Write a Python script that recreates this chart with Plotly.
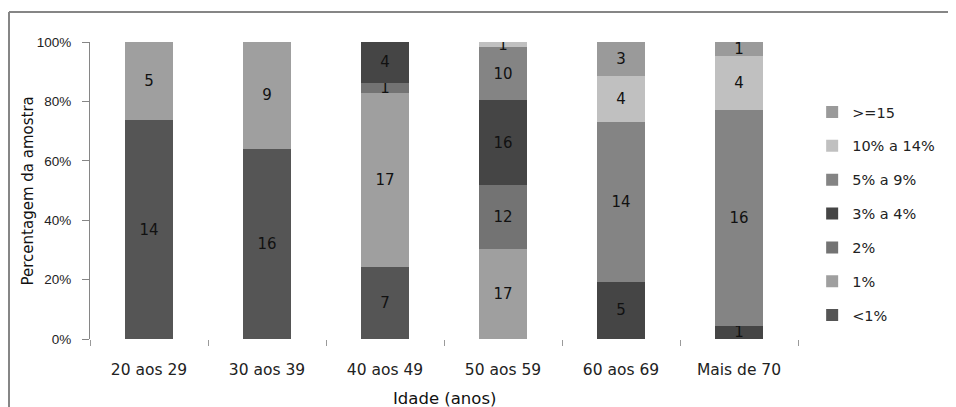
import plotly.graph_objects as go

categories = ["20 aos 29", "30 aos 39", "40 aos 49", "50 aos 59", "60 aos 69", "Mais de 70"]
series_names = ["<1%", "1%", "2%", "3% a 4%", "5% a 9%", "10% a 14%", ">=15"]
s_lt1 = [14, 16, 7, None, None, None]
s_1 = [5, 9, 17, 17, None, None]
s_2 = [None, None, 1, 12, None, None]
s_3a4 = [None, None, 4, 16, 5, 1]
s_5a9 = [None, None, None, 10, 14, 16]
s_10a14 = [None, None, None, 1, 4, 4]
s_ge15 = [None, None, None, None, 3, 1]
y_ticks = [0, 20, 40, 60, 80, 100]
y_tick_labels = ["0%", "20%", "40%", "60%", "80%", "100%"]

series_values = [s_lt1, s_1, s_2, s_3a4, s_5a9, s_10a14, s_ge15]
colors = ["#555555", "#9f9f9f", "#737373", "#454545", "#848484", "#c0c0c0", "#9a9a9a"]

WIDE = "DejaVu Sans"
ARIAL = "Liberation Sans"

fig = go.Figure()
for i, (name, vals, col) in enumerate(zip(series_names, series_values, colors)):
    fig.add_trace(go.Bar(
        x=categories, y=vals, name=name, marker_color=col,
        marker_line_width=0,
        text=[("" if v is None else str(v)) for v in vals],
        textposition="inside", insidetextanchor="middle",
        constraintext="none", textangle=0,
        textfont=dict(family=WIDE, size=15, color="#111111"),
        legendgroup=name, legendrank=100 - i,
    ))

fig.update_layout(
    width=956, height=407,
    barmode="stack", barnorm="percent", bargap=0.6,
    plot_bgcolor="white", paper_bgcolor="white",
    margin=dict(l=82, r=166, t=34, b=75.5, autoexpand=False),
    font=dict(family=WIDE, size=14, color="#222222"),
    legend=dict(
        x=1.02, y=0.818, xanchor="left", yanchor="top",
        traceorder="grouped", tracegroupgap=12,
        font=dict(family=WIDE, size=14.5, color="#222222"),
        itemwidth=30,
    ),
    showlegend=True,
)
fig.update_yaxes(
    range=[0, 100], tickmode="array", tickvals=y_ticks, ticktext=y_tick_labels,
    showgrid=False, zeroline=False, automargin=False,
    showline=True, linecolor="#868686", linewidth=1,
    ticks="outside", ticklen=7, tickcolor="#868686",
    tickfont=dict(family=ARIAL, size=13.5, color="#222222"),
    ticklabelstandoff=8,
)
fig.update_xaxes(
    showgrid=False, showline=False,
    automargin=False,
    ticks="outside", tickson="boundaries", ticklen=6, tickcolor="#9a9a9a",
    tickfont=dict(family=WIDE, size=15.5, color="#222222"),
    ticklabelstandoff=19,
)
fig.add_annotation(
    text="Percentagem da amostra", textangle=-90,
    xref="paper", yref="paper", x=-0.0876, y=0.5,
    xanchor="center", yanchor="middle", showarrow=False,
    font=dict(family=WIDE, size=15, color="#111111"),
)
fig.add_annotation(
    text="Idade (anos)",
    xref="paper", yref="paper", x=0.5, y=-0.2,
    xanchor="center", yanchor="middle", showarrow=False,
    font=dict(family=WIDE, size=16.5, color="#111111"),
)
# outer chart border (top and left visible)
fig.add_shape(type="line", xref="paper", yref="paper",
              x0=-0.1144, x1=2.0, y0=1.1008, y1=1.1008,
              line=dict(color="#868686", width=2), layer="below")
fig.add_shape(type="line", xref="paper", yref="paper",
              x0=-0.1144, x1=-0.1144, y0=-0.6, y1=1.1008,
              line=dict(color="#868686", width=2), layer="below")

fig.write_html("out.html")
